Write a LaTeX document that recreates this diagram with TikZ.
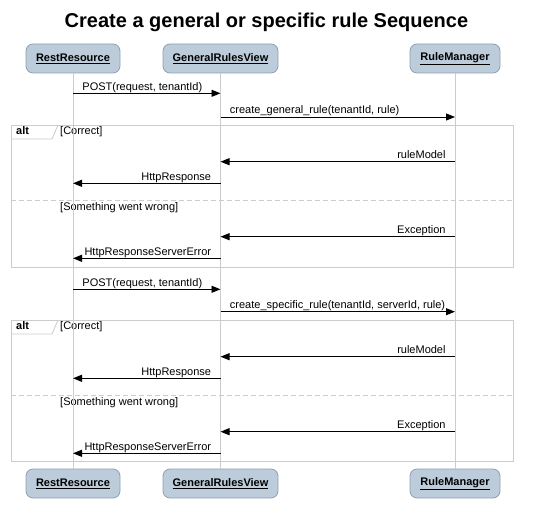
\documentclass[tikz,border=0pt]{standalone}
\usepackage{fontspec}
\setmainfont{Liberation Sans}
\usetikzlibrary{arrows.meta}
\definecolor{boxfill}{HTML}{BCCCDA}
\definecolor{boxline}{HTML}{8C9FB3}
\definecolor{grayline}{HTML}{CCCCCC}
\begin{document}
\begin{tikzpicture}[x=1pt,y=-1pt,
  participant/.style={draw=boxline,fill=boxfill,rounded corners=7pt,line width=0.8pt,
    minimum height=29pt,inner sep=0pt,font=\fontsize{11}{13}\selectfont\bfseries},
  lifeline/.style={draw=grayline,line width=0.8pt},
  msg/.style={draw=black,line width=0.9pt,-{Triangle[length=9pt,width=7pt]}},
  lbl/.style={font=\fontsize{11}{13}\selectfont,inner sep=0pt},
  rlbl/.style={lbl,pos=0,anchor=base west,xshift=9pt,yshift=3pt},
  llbl/.style={lbl,pos=0,anchor=base east,xshift=-9pt,yshift=3pt},
  frame/.style={draw=grayline,line width=0.8pt},
  sep/.style={draw=grayline,line width=0.8pt,dash pattern=on 5pt off 3pt}]
\useasboundingbox (0,0) rectangle (533,521);
\node[font=\fontsize{20}{24}\selectfont\bfseries] (title) at (266.5,22) {Create a general or specific rule Sequence};
% participants
\node[participant,minimum width=94pt] (rr1) at (73,58.5) {\underline{RestResource}};
\node[participant,minimum width=115pt] (gv1) at (220.5,58.5) {\underline{GeneralRulesView}};
\node[participant,minimum width=90pt] (rm1) at (455,58.5) {\underline{RuleManager}};
\node[participant,minimum width=94pt] (rr2) at (73,483.5) {\underline{RestResource}};
\node[participant,minimum width=115pt] (gv2) at (220.5,483.5) {\underline{GeneralRulesView}};
\node[participant,minimum width=90pt] (rm2) at (455,483.5) {\underline{RuleManager}};
% alt frames
\foreach \t/\s/\b/\n in {125/200.7/267.7/1,320/395/461/2}{
  \draw[frame] (11,\t) rectangle (513,\b);
  \draw[frame] (11,\t+14) -- (52,\t+14) -- (58,\t);
  \draw[sep] (11,\s) -- (513,\s);
  \node[lbl,anchor=base west,font=\fontsize{11}{13}\selectfont\bfseries] (alt\n) at (16,\t+10) {alt};
  \node[lbl,anchor=base west] (cor\n) at (60,\t+10) {[Correct]};
  \node[lbl,anchor=base west] (wrong\n) at (60,\s+10) {[Something went wrong]};
}
% lifelines
\draw[lifeline] (rr1) -- (rr2);
\draw[lifeline] (gv1) -- (gv2);
\draw[lifeline] (rm1) -- (rm2);
% messages section 1
\draw[msg] (rr1.south |- 0,93.3) -- node[rlbl] (l1) {POST(request, tenantId)} (gv1.south |- 0,93.3);
\draw[msg] (gv1.south |- 0,117) -- node[rlbl] (l2) {create\_general\_rule(tenantId, rule)} (rm1.south |- 0,117);
\draw[msg] (rm1.south |- 0,161.7) -- node[llbl] (l3) {ruleModel} (gv1.south |- 0,161.7);
\draw[msg] (gv1.south |- 0,183.3) -- node[llbl] (l4) {HttpResponse} (rr1.south |- 0,183.3);
\draw[msg] (rm1.south |- 0,236.7) -- node[llbl] (l5) {Exception} (gv1.south |- 0,236.7);
\draw[msg] (gv1.south |- 0,258.3) -- node[llbl] (l6) {HttpResponseServerError} (rr1.south |- 0,258.3);
% messages section 2
\draw[msg] (rr1.south |- 0,289.3) -- node[rlbl] (l7) {POST(request, tenantId)} (gv1.south |- 0,289.3);
\draw[msg] (gv1.south |- 0,311.7) -- node[rlbl] (l8) {create\_specific\_rule(tenantId, serverId, rule)} (rm1.south |- 0,311.7);
\draw[msg] (rm1.south |- 0,356.7) -- node[llbl] (l9) {ruleModel} (gv1.south |- 0,356.7);
\draw[msg] (gv1.south |- 0,378.3) -- node[llbl] (l10) {HttpResponse} (rr1.south |- 0,378.3);
\draw[msg] (rm1.south |- 0,431.7) -- node[llbl] (l11) {Exception} (gv1.south |- 0,431.7);
\draw[msg] (gv1.south |- 0,453.3) -- node[llbl] (l12) {HttpResponseServerError} (rr1.south |- 0,453.3);
\end{tikzpicture}
\end{document}
